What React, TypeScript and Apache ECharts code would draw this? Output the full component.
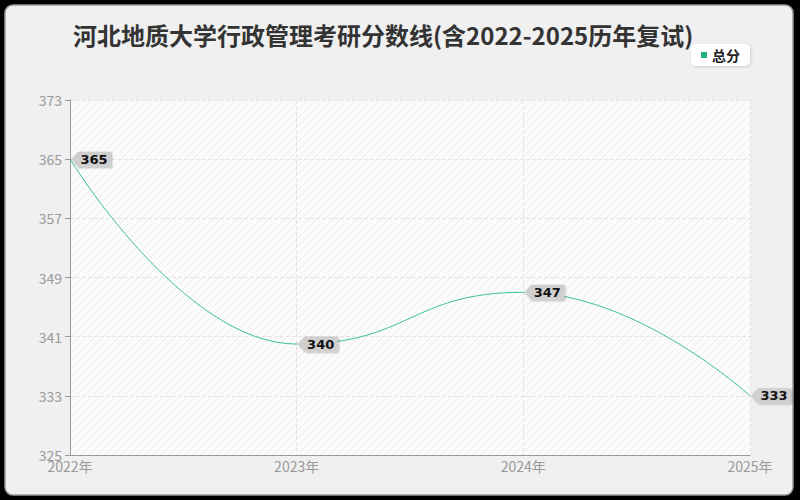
import { useEffect, useRef } from 'react'
import * as echarts from 'echarts'

const years = ['2022年', '2023年', '2024年', '2025年']
const totals = [365, 340, 347, 333]
const yMin = 325
const yMax = 373
const yStep = 8

const FONT = '"Noto Sans CJK SC", "Noto Sans", sans-serif'

function hatch() {
  const c = document.createElement('canvas')
  c.width = 8
  c.height = 8
  const g = c.getContext('2d')!
  g.fillStyle = '#fbfbfb'
  g.fillRect(0, 0, 8, 8)
  g.strokeStyle = '#eeeeee'
  g.lineWidth = 1
  g.beginPath()
  g.moveTo(0, 8)
  g.lineTo(8, 0)
  g.moveTo(-4, 4)
  g.lineTo(4, -4)
  g.moveTo(4, 12)
  g.lineTo(12, 4)
  g.stroke()
  return c
}

export default function App() {
  const ref = useRef<HTMLDivElement>(null)

  useEffect(() => {
    document.body.style.margin = '0'
    if (!ref.current) return
    const chart = echarts.init(ref.current, undefined, { renderer: 'svg' })
    chart.setOption({
      animation: false,
      backgroundColor: '#000',
      textStyle: { fontFamily: FONT },
      graphic: [
        {
          type: 'rect', z: -10, silent: true,
          shape: { x: 5, y: 5, width: 788, height: 490, r: 8 },
          style: { fill: '#f0f0f0', stroke: '#9a9a9a', lineWidth: 1.5 },
        },
      ],
      title: {
        text: '河北地质大学行政管理考研分数线(含2022-2025历年复试)',
        left: 68, top: 17,
        textStyle: { fontSize: 24, fontWeight: 'bold', color: '#333', fontFamily: FONT },
      },
      legend: {
        data: ['总分'], right: 50, top: 44,
        backgroundColor: '#fff', borderRadius: 5, padding: [4, 10],
        shadowColor: 'rgba(0,0,0,0.15)', shadowBlur: 3, shadowOffsetX: 1, shadowOffsetY: 1,
        icon: 'rect', itemWidth: 6, itemHeight: 6, itemGap: 5,
        textStyle: { fontSize: 14, fontWeight: 'bold', color: '#222', fontFamily: FONT },
      },
      grid: {
        left: 70, right: 50, top: 100, bottom: 45, show: true,
        backgroundColor: { image: hatch(), repeat: 'repeat' },
        borderWidth: 0,
      },
      xAxis: {
        type: 'category', data: years, boundaryGap: false,
        axisLine: { lineStyle: { color: '#999' } },
        axisTick: { show: false },
        axisLabel: { color: '#999', fontSize: 14, margin: 4 },
        splitLine: { show: true, lineStyle: { color: '#e4e4e4', type: 'dashed' } },
      },
      yAxis: {
        type: 'value', min: yMin, max: yMax, interval: yStep,
        axisLine: { show: true, lineStyle: { color: '#999' } },
        axisTick: { show: true, length: 5, lineStyle: { color: '#999' } },
        axisLabel: { color: '#999', fontSize: 14, margin: 8 },
        splitLine: { lineStyle: { color: '#e4e4e4', type: 'dashed' } },
      },
      series: [
        {
          name: '总分', type: 'line', data: totals, smooth: true, smoothMonotone: 'x',
          symbol: 'none',
          lineStyle: { color: '#3dbf97', width: 1 },
          itemStyle: { color: '#1fb07c' },
          markPoint: {
            symbol: 'path://M0,7 L7,0 L40,0 L40,14 L7,14 Z',
            symbolSize: [40, 15], symbolOffset: [21, 0],
            itemStyle: {
              color: '#cfcfcf',
              shadowColor: 'rgba(0,0,0,0.3)', shadowBlur: 2, shadowOffsetX: 1, shadowOffsetY: 1,
            },
            label: {
              show: true, position: 'inside', offset: [3, 0],
              color: '#111', fontSize: 13, fontWeight: 'bold', fontFamily: '"DejaVu Sans", sans-serif',
              formatter: (p: any) => String(p.value),
            },
            data: totals.map((v, i) => ({ coord: [i, v], value: v })),
          },
        },
      ],
    })
    return () => chart.dispose()
  }, [])

  return <div ref={ref} style={{ width: 800, height: 500 }} />
}
